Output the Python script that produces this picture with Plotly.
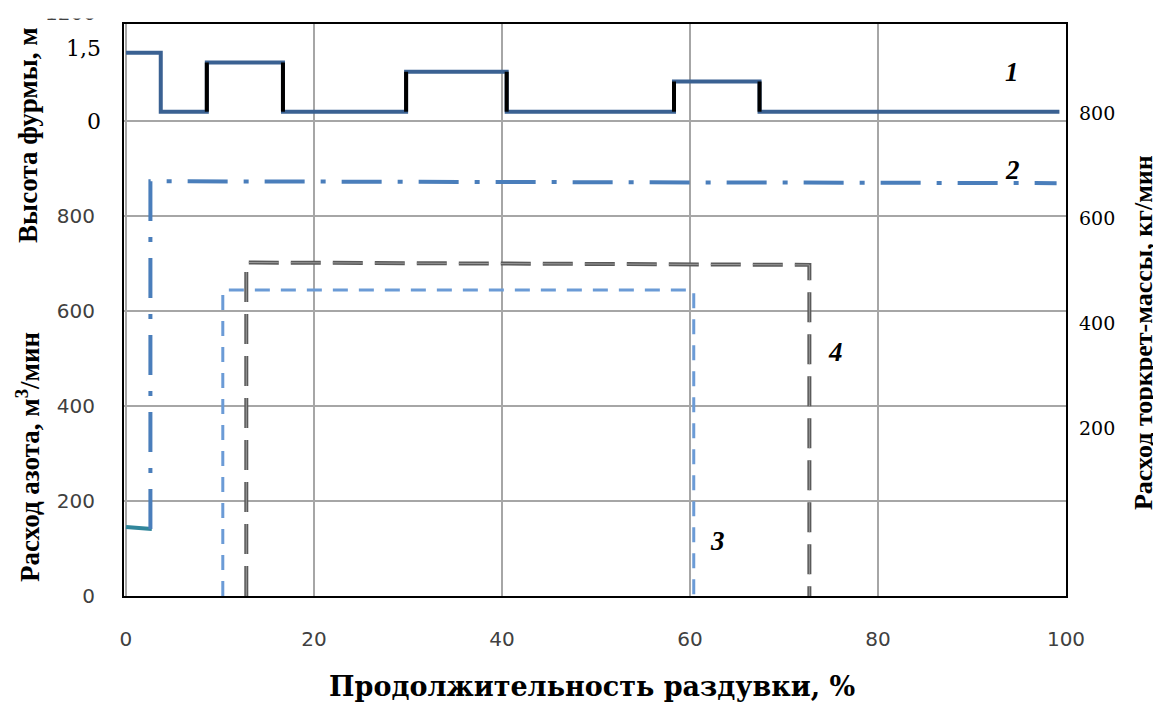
import plotly.graph_objects as go

# ---------------- data ----------------
# Series 1: tuyere height, m (step profile)
s1_edges = [0, 3.7, 8.6, 16.7, 29.8, 40.5, 58.3, 67.4, 99.3]
s1_levels = [1.40, 0.19, 1.20, 0.19, 1.01, 0.19, 0.81, 0.19]

# Series 2: nitrogen flow, m3/min
s2_start_x = [0, 2.75]
s2_start_y = [145, 141]
s2_x = [2.6, 2.6, 99.0]
s2_y = [141, 873, 869]

# Series 3 and 4: flow profiles
s3_x = [10.3, 10.3, 60.4, 60.4]
s3_y = [0, 644, 644, 0]
s4_x = [12.8, 12.8, 72.7, 72.7]
s4_y = [0, 702, 697, 0]

x_ticks = [0, 20, 40, 60, 80, 100]
left_ticks = [0, 200, 400, 600, 800, 1000]
left_ticktext = ["0", "200", "400", "600", "800", ""]
height_ticks = [0, 1.5]
height_ticktext = ["0", "1,5"]
right_ticks = [200, 400, 600, 800]

curve_labels = [("1", 94.3, 1102), ("2", 94.3, 896), ("3", 62.9, 116), ("4", 75.5, 513)]

SERIF = "Liberation Serif, Times New Roman, serif"
WSERIF = "DejaVu Serif, serif"
WSANS = "DejaVu Sans, sans-serif"

fig = go.Figure()

# Series 4 (grey compound dashed)
fig.add_trace(go.Scatter(x=s4_x, y=s4_y, mode="lines",
                         line=dict(color="#5a5a5a", width=4, dash="30px,12px")))
fig.add_trace(go.Scatter(x=s4_x, y=s4_y, mode="lines",
                         line=dict(color="#9a9a9a", width=1, dash="30px,12px")))
# Series 3 (light blue dashed)
fig.add_trace(go.Scatter(x=s3_x, y=s3_y, mode="lines",
                         line=dict(color="#6b9bd6", width=3, dash="15px,11px")))
# Series 2
fig.add_trace(go.Scatter(x=s2_start_x, y=s2_start_y, mode="lines",
                         line=dict(color="#31869b", width=4)))
fig.add_trace(go.Scatter(x=s2_x, y=s2_y, mode="lines",
                         line=dict(color="#4a7ebb", width=4, dash="40px,16px,5px,16px")))

# Series 1 on height axis
s1_x = list(s1_edges)
s1_y = list(s1_levels) + [s1_levels[-1]]
fig.add_trace(go.Scatter(x=s1_x, y=s1_y, mode="lines", yaxis="y3",
                         line=dict(color="#3a6192", width=4, shape="hv")))
# black vertical segments (all but the first drop)
vx, vy = [], []
for i in range(2, len(s1_edges) - 1):
    vx += [s1_edges[i], s1_edges[i], None]
    vy += [s1_levels[i - 1], s1_levels[i], None]
fig.add_trace(go.Scatter(x=vx, y=vy, mode="lines", yaxis="y3",
                         line=dict(color="#000000", width=4)))

# right axis carrier
fig.add_trace(go.Scatter(x=[None], y=[None], yaxis="y2", mode="lines", showlegend=False))

annotations = []
for txt, xx, yy in curve_labels:
    annotations.append(dict(x=xx, y=yy, xref="x", yref="y", text="<b><i>%s</i></b>" % txt,
                            showarrow=False, font=dict(family=SERIF, size=27, color="#000")))

annotations += [
    dict(xref="paper", yref="paper", x=-0.102, y=0.806, xanchor="center", yanchor="middle",
         text="<b>Высота фурмы, м</b>", textangle=-90, showarrow=False,
         font=dict(family=SERIF, size=27, color="#000")),
    dict(xref="paper", yref="paper", x=-0.102, y=0.243, xanchor="center", yanchor="middle",
         text="<b>Расход азота, м<sup>3</sup>/мин</b>", textangle=-90, showarrow=False,
         font=dict(family=SERIF, size=27, color="#000")),
    dict(xref="paper", yref="paper", x=1.083, y=0.46, xanchor="center", yanchor="middle",
         text="<b>Расход торкрет-массы, кг/мин</b>", textangle=-90, showarrow=False,
         font=dict(family=SERIF, size=26, color="#000")),
    dict(xref="paper", yref="paper", x=0.497, y=-0.158, xanchor="center", yanchor="middle",
         text="<b>Продолжительность раздувки, %</b>", showarrow=False,
         font=dict(family=WSERIF, size=27, color="#000")),
    dict(xref="paper", yref="paper", x=-0.0276, y=0.995, xanchor="right", yanchor="bottom",
         text="1200", showarrow=False, font=dict(family=WSANS, size=20, color="#404040")),
    dict(xref="paper", yref="paper", x=-0.052, y=1.03, xanchor="center", yanchor="top", text=" ",
         width=80, height=10, bgcolor="white", borderpad=0, showarrow=False,
         font=dict(size=6)),
]

fig.update_layout(
    width=1153, height=696,
    margin=dict(l=116, r=95, t=16, b=108),
    paper_bgcolor="white", plot_bgcolor="white",
    showlegend=False, hovermode=False,
    xaxis=dict(range=[-0.21, 100], tickvals=x_ticks, showgrid=True, gridcolor="#a6a6a6",
               gridwidth=1.5, zeroline=False, showline=True, linecolor="#000", linewidth=2,
               mirror=True, ticks="", ticklabelstandoff=24,
               tickfont=dict(family=WSANS, size=20, color="#404040")),
    yaxis=dict(range=[0, 1204], tickvals=left_ticks, ticktext=left_ticktext, showgrid=True,
               gridcolor="#a6a6a6", gridwidth=1.5, zeroline=False, showline=True,
               linecolor="#000", linewidth=2, mirror=True, ticks="", ticklabelstandoff=23,
               tickfont=dict(family=WSANS, size=20, color="#404040")),
    yaxis3=dict(range=[-9.75, 1.99], overlaying="y", side="left", anchor="x",
                tickvals=height_ticks, ticktext=height_ticktext, showgrid=False,
                zeroline=False, showline=False, ticks="", ticklabelstandoff=22,
                tickfont=dict(family=WSERIF, size=22, color="#000")),
    yaxis2=dict(range=[-120, 970], overlaying="y", side="right", anchor="x",
                tickvals=right_ticks, showgrid=False, zeroline=False, showline=False,
                ticks="", ticklabelstandoff=12,
                tickfont=dict(family=WSERIF, size=19, color="#000")),
    annotations=annotations,
)

fig.write_html("out.html")
